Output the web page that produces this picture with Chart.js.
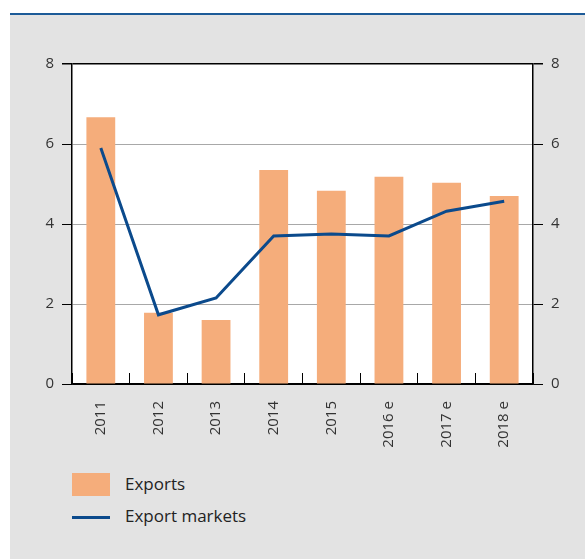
<!DOCTYPE html>
<html>
<head>
<meta charset="utf-8">
<script src="https://cdn.jsdelivr.net/npm/chart.js@4/dist/chart.umd.min.js"></script>
<style>
  body { margin: 0; background: #fff; width: 585px; height: 559px; overflow: hidden; position: relative; font-family: "Open Sans", sans-serif; }
  #panel { position: absolute; left: 10px; top: 13px; width: 575px; height: 546px; background: #e3e3e3; border-top: 2px solid #1d5b98; box-sizing: border-box; }
  #wrap { position: absolute; left: 0; top: 0; width: 585px; height: 460px; }
  .legend { position: absolute; left: 72px; font-size: 17px; color: #222; }
  .legend span { position: absolute; left: 53px; white-space: nowrap; }
  .box { position: absolute; width: 38px; height: 23px; background: #f5ad7b; }
  .ln { position: absolute; width: 38px; height: 3px; background: #0b4a8c; }
</style>
</head>
<body>
<div id="panel"></div>
<div id="wrap"><canvas id="chart"></canvas></div>
<div class="legend" style="top:473px"><div class="box"></div><span style="top:-1px">Exports</span></div>
<div class="legend" style="top:516px"><div class="ln"></div><span style="top:-12px">Export markets</span></div>
<script>
const years = ["2011", "2012", "2013", "2014", "2015", "2016 e", "2017 e", "2018 e"];
const exportsValues = [6.67, 1.78, 1.6, 5.35, 4.83, 5.18, 5.03, 4.7];
const exportMarkets = [5.9, 1.73, 2.15, 3.7, 3.75, 3.7, 4.32, 4.57];
const yTicks = [0, 2, 4, 6, 8];

const tickFont = { family: "Open Sans", size: 15 };

const yAxis = (position, width) => ({
  position: position,
  min: 0,
  max: 8,
  afterBuildTicks: (scale) => { scale.ticks = yTicks.map(v => ({ value: v })); },
  afterFit: (scale) => { scale.width = width; },
  border: { display: true, color: "#000", width: 1.5 },
  grid: {
    drawOnChartArea: position === "left",
    color: (ctx) => ctx.tick.value === 8 || ctx.tick.value === 0 ? "#000" : "#a8a8a8",
    tickColor: "#000",
    tickLength: 10,
    lineWidth: (ctx) => ctx.tick.value === 8 ? 1.5 : 1
  },
  ticks: { font: tickFont, color: "#333", padding: 8 }
});

window.onload = () => {
  const ctx = document.getElementById("chart").getContext("2d");
  new Chart(ctx, {
    data: {
      labels: years,
      datasets: [
        {
          type: "line",
          label: "Export markets",
          data: exportMarkets,
          borderColor: "#0b4a8c",
          borderWidth: 3,
          pointRadius: 0,
          tension: 0,
          order: 0,
          yAxisID: "y"
        },
        {
          type: "bar",
          label: "Exports",
          data: exportsValues,
          backgroundColor: "#f5ad7b",
          barPercentage: 0.5,
          categoryPercentage: 1,
          order: 1,
          yAxisID: "y"
        }
      ]
    },
    options: {
      responsive: true,
      maintainAspectRatio: false,
      animation: false,
      layout: { padding: { top: 64, left: 0, right: 0, bottom: 0 } },
      plugins: { legend: { display: false }, tooltip: { enabled: false } },
      scales: {
        x: {
          offset: true,
          afterFit: (scale) => { scale.height = 76; },
          border: { display: true, color: "#000", width: 1.5 },
          grid: { drawOnChartArea: false, offset: true, tickLength: -11, color: "#000" },
          ticks: { font: tickFont, color: "#333", minRotation: 90, maxRotation: 90, padding: 28 }
        },
        y: yAxis("left", 72),
        y2: yAxis("right", 52)
      }
    },
    plugins: [{
      id: "bg",
      beforeDraw: (chart) => {
        const a = chart.chartArea;
        chart.ctx.save();
        chart.ctx.fillStyle = "#fff";
        chart.ctx.fillRect(a.left, a.top, a.right - a.left, a.bottom - a.top);
        chart.ctx.restore();
      }
    }]
  });
};
</script>
</body>
</html>
